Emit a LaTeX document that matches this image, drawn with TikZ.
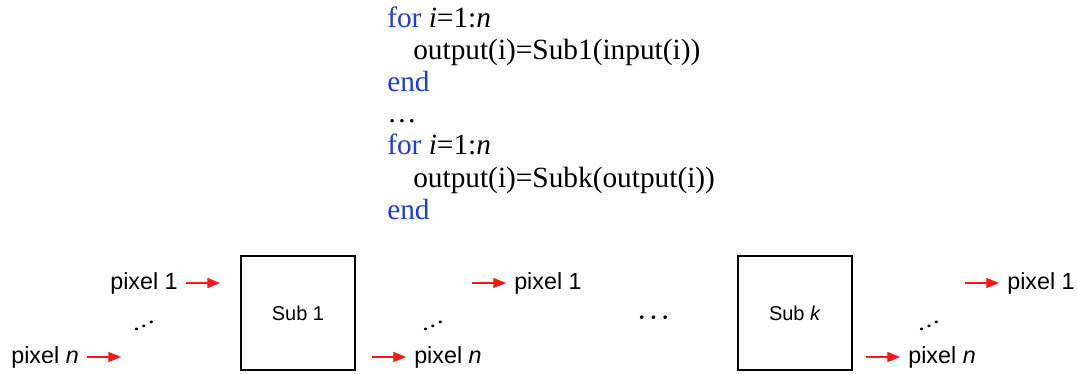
\documentclass[tikz,border=0pt]{standalone}
\usepackage{fontspec}
\usepackage{graphicx}
\setmainfont{Liberation Serif}
\newfontfamily\labelfont{Liberation Sans}
\usetikzlibrary{arrows.meta,positioning}
\definecolor{codeblue}{RGB}{28,58,245}
\definecolor{arrowred}{RGB}{250,20,20}
\tikzset{
  codeline/.style={anchor=base west, inner sep=0pt, font=\fontsize{22}{26}\selectfont},
  pixlabel/.style={inner sep=0pt, font=\labelfont\fontsize{17.5}{21}\selectfont},
  subbox/.style={draw, line width=1.5pt, minimum width=85pt, minimum height=85pt, font=\labelfont\fontsize{15}{18}\selectfont},
  redarrow/.style={arrowred, line width=0.9pt, -{Triangle[length=9.5pt,width=7.5pt]}},
  updots/.style={inner sep=0pt, font=\fontsize{13}{15}\selectfont\bfseries\boldmath},
  middots/.style={inner sep=0pt, font=\fontsize{19}{23}\selectfont\boldmath}
}
\newcommand{\updiag}{\scalebox{-1.15}[0.95]{$\ddots$}}
\begin{document}
\begin{tikzpicture}[x=0.75pt, y=-0.75pt]
  \useasboundingbox (0,0) rectangle (1077,374);

  % code
  \node[codeline] (for1) at (387,28) {\textcolor{codeblue}{for} \textit{i}=1:\textit{n}};
  \node[codeline] (body1) at (413,60) {output(i)=Sub1(input(i))};
  \node[codeline] (end1) at (387,92) {\textcolor{codeblue}{end}};
  \node[codeline] (skip) at (387,123) {\ldots};
  \node[codeline] (for2) at (387,155) {\textcolor{codeblue}{for} \textit{i}=1:\textit{n}};
  \node[codeline] (body2) at (413,187) {output(i)=Subk(output(i))};
  \node[codeline] (end2) at (387,219) {\textcolor{codeblue}{end}};

  % sub boxes
  \node[subbox] (sub1) at (298,313) {Sub 1};
  \node[subbox] (subk) at (795,313) {Sub \textit{k}};

  % input pixels
  \coordinate (in1s) at (186,283);  \coordinate (in1e) at (220,283);
  \coordinate (inns) at (87,357);   \coordinate (inne) at (121,357);
  \node[pixlabel, left=6pt of in1s] (in1) {pixel 1};
  \node[pixlabel, left=6pt of inns] (inn) {pixel \textit{n}};
  \draw[redarrow] (in1s) -- (in1e);
  \draw[redarrow] (inns) -- (inne);
  \node[updots] (indots) at (144,322) {\updiag};

  % outputs of sub 1
  \coordinate (mid1s) at (472,283); \coordinate (mid1e) at (506,283);
  \coordinate (midns) at (372,357); \coordinate (midne) at (406,357);
  \draw[redarrow] (mid1s) -- (mid1e);
  \draw[redarrow] (midns) -- (midne);
  \node[pixlabel, right=6pt of mid1e] (mid1) {pixel 1};
  \node[pixlabel, right=6pt of midne] (midn) {pixel \textit{n}};
  \node[updots] (middots) at (433,322) {\updiag};

  \node[middots] (gap) at (653.5,318) {$\cdots$};

  % outputs of sub k
  \coordinate (out1s) at (965,283); \coordinate (out1e) at (999,283);
  \coordinate (outns) at (866,357); \coordinate (outne) at (900,357);
  \draw[redarrow] (out1s) -- (out1e);
  \draw[redarrow] (outns) -- (outne);
  \node[pixlabel, right=6pt of out1e] (out1) {pixel 1};
  \node[pixlabel, right=6pt of outne] (outn) {pixel \textit{n}};
  \node[updots] (outdots) at (929,322) {\updiag};
\end{tikzpicture}
\end{document}
